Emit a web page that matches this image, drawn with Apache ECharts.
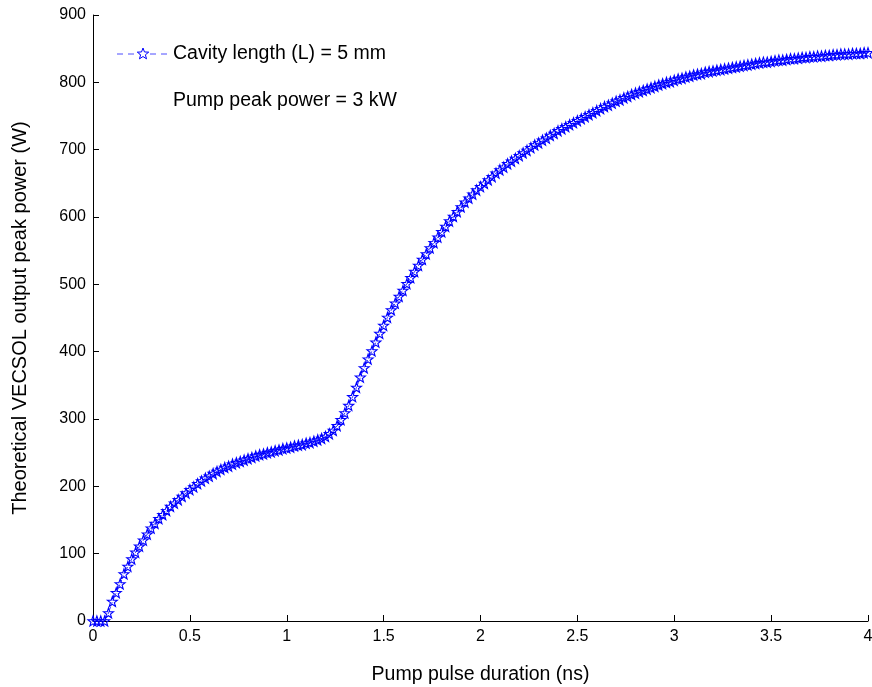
<!DOCTYPE html>
<html>
<head>
<meta charset="utf-8">
<script src="https://cdn.jsdelivr.net/npm/echarts@6/dist/echarts.min.js"></script>
<style>html,body{margin:0;padding:0;background:#fff}#c{width:872px;height:687px}</style>
</head>
<body>
<div id="c"></div>
<script>
// Pump pulse duration samples (ns): start and step of the sampling grid
const xStart = 0;
const xStep = 0.02;
// Theoretical VECSOL output peak power (W), one value per sample
const peakPower = [
  0, 0, 0, 0, 12, 29, 42, 55, 70, 81,
  92, 102, 111, 120, 129, 138, 145, 152, 158, 164,
  170, 175, 180, 185, 190, 195, 199, 204, 208, 212,
  215, 219, 222, 225, 228, 230, 233, 235, 237, 239,
  241, 243, 245, 247, 248, 250, 251, 253, 254, 256,
  257, 258, 260, 261, 262, 264, 265, 267, 269, 271,
  274, 278, 283, 290, 299, 309, 320, 333, 347, 362,
  376, 389, 401, 414, 427, 439, 451, 462, 472, 482,
  491, 501, 510, 519, 528, 537, 545, 554, 562, 570,
  578, 586, 594, 601, 608, 615, 622, 628, 634, 640,
  645, 650, 655, 660, 665, 670, 674, 679, 683, 687,
  691, 695, 699, 703, 707, 710, 714, 717, 721, 724,
  728, 731, 734, 737, 740, 743, 746, 749, 752, 755,
  758, 761, 764, 766, 769, 772, 774, 777, 779, 782,
  784, 786, 788, 790, 792, 794, 796, 798, 800, 801,
  803, 805, 806, 808, 809, 811, 812, 813, 815, 816,
  817, 818, 819, 820, 821, 822, 823, 824, 825, 826,
  827, 828, 829, 830, 830, 831, 832, 833, 833, 834,
  835, 835, 836, 837, 837, 838, 838, 839, 839, 840,
  840, 841, 841, 842, 842, 842, 843, 843, 843, 844,
  844
];
const xTicks = [0, 0.5, 1, 1.5, 2, 2.5, 3, 3.5, 4];
const yTicks = [0, 100, 200, 300, 400, 500, 600, 700, 800, 900];
const seriesName = 'Cavity length (L) = 5 mm';
const noteText = 'Pump peak power = 3 kW';
const xTitle = 'Pump pulse duration (ns)';
const yTitle = 'Theoretical VECSOL output peak power (W)';

const data = peakPower.map((v, i) => [+(xStart + i * xStep).toFixed(2), v]);

const starPath = 'path://M0,-10L2.35,-3.24L9.51,-3.09L3.8,1.24L5.88,8.09L0,4.2L-5.88,8.09L-3.8,1.24L-9.51,-3.09L-2.35,-3.24Z';

function starPoints(cx, cy, r) {
  const pts = [];
  for (let k = 0; k < 10; k++) {
    const a = -Math.PI / 2 + k * Math.PI / 5;
    const rr = k % 2 === 0 ? r : r * 0.42;
    pts.push([cx + rr * Math.cos(a), cy + rr * Math.sin(a)]);
  }
  return pts;
}

const font = '"Liberation Sans", Arial, sans-serif';
const chart = echarts.init(document.getElementById('c'), null, {renderer: 'canvas'});
chart.setOption({
  animation: false,
  backgroundColor: '#fff',
  textStyle: {fontFamily: font},
  grid: {left: 93, right: 4, top: 15, bottom: 66, containLabel: false, outerBoundsMode: 'none'},
  xAxis: {
    type: 'value', min: xTicks[0], max: xTicks[xTicks.length - 1], interval: 0.5,
    axisLine: {show: true, lineStyle: {color: '#000', width: 1}},
    axisTick: {show: true, inside: true, length: 6, lineStyle: {color: '#000'}},
    axisLabel: {color: '#000', fontSize: 16, margin: 8, fontFamily: font},
    splitLine: {show: false},
    name: xTitle, nameLocation: 'middle', nameGap: 44,
    nameTextStyle: {color: '#000', fontSize: 19.5, fontFamily: font}
  },
  yAxis: {
    type: 'value', min: yTicks[0], max: yTicks[yTicks.length - 1], interval: 100,
    axisLine: {show: true, lineStyle: {color: '#000', width: 1}},
    axisTick: {show: true, inside: true, length: 6, lineStyle: {color: '#000'}},
    axisLabel: {color: '#000', fontSize: 16, margin: 7, fontFamily: font},
    splitLine: {show: false},
    name: yTitle, nameLocation: 'middle', nameGap: 63, nameRotate: 90,
    nameTextStyle: {color: '#000', fontSize: 20, fontFamily: font}
  },
  series: [{
    name: seriesName,
    type: 'line',
    data: data,
    showAllSymbol: true,
    symbol: starPath,
    symbolSize: 10,
    lineStyle: {color: '#0000ff', width: 0.8, type: 'dashed'},
    itemStyle: {color: 'rgba(0,0,0,0)', borderColor: '#0000ff', borderWidth: 1.1},
    z: 3
  }],
  graphic: [
    {type: 'line', shape: {x1: 117, y1: 54, x2: 168, y2: 54},
     style: {stroke: '#4d4dff', lineWidth: 1, lineDash: [6, 5]}},
    {type: 'polygon', shape: {points: starPoints(143, 54, 6)},
     style: {fill: '#fff', stroke: '#0000ff', lineWidth: 1}},
    {type: 'text', left: 173, top: 44,
     style: {text: seriesName, fill: '#000', font: '19.5px ' + font}},
    {type: 'text', left: 173, top: 91,
     style: {text: noteText, fill: '#000', font: '19.5px ' + font}}
  ]
});
</script>
</body>
</html>
